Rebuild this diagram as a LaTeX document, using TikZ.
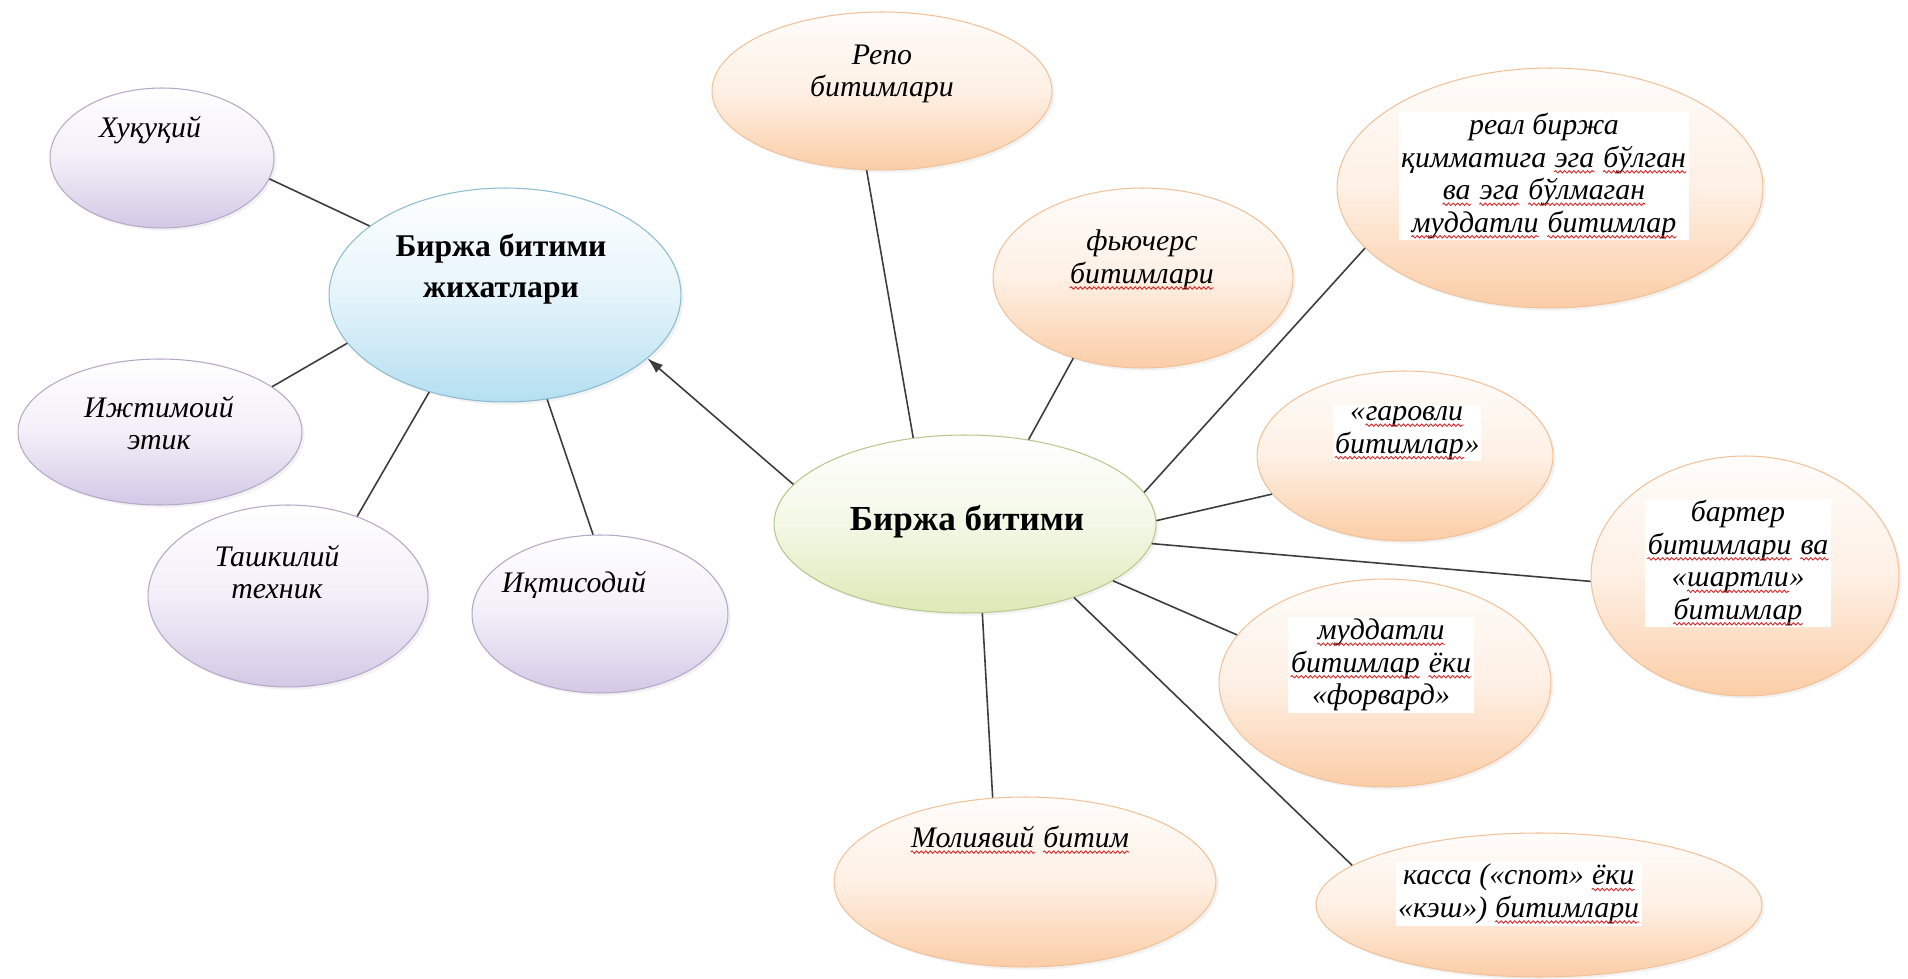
\documentclass[tikz,border=0pt]{standalone}
\usepackage{fontspec}
\setmainfont{Liberation Serif}
\usetikzlibrary{shapes.geometric, arrows.meta, shadows, decorations.pathmorphing}

\definecolor{lilac}{HTML}{D4C8E6}
\definecolor{lilacedge}{HTML}{B5A8C8}
\definecolor{skyb}{HTML}{B4DFF1}
\definecolor{skyedge}{HTML}{8DBBD0}
\definecolor{leaf}{HTML}{DDE9B6}
\definecolor{leafedge}{HTML}{B6C98E}
\definecolor{peach}{HTML}{FBCDA6}
\definecolor{peachedge}{HTML}{F1C29A}
\definecolor{linkc}{HTML}{3C3C3C}
\definecolor{typored}{HTML}{D62828}

% red wavy underline, as the spell checker leaves it
\newcommand\typo[1]{\tikz[baseline=(tw.base)]{\node[inner sep=0pt] (tw) {#1};
  \draw[typored, line width=0.5pt, decorate, decoration={snake, amplitude=0.7pt, segment length=2.6pt}]
    ([yshift=-2.6pt]tw.base west) -- ([yshift=-2.6pt]tw.base east);}}

\tikzset{
  bubble/.style={ellipse, inner sep=0pt, line width=0.6pt,
    drop shadow={opacity=0.10, shadow xshift=1.5pt, shadow yshift=-1.5pt}},
  aspect/.style={bubble, draw=lilacedge, top color=white, bottom color=lilac, middle color=lilac!30!white},
  hub/.style={bubble, draw=skyedge, top color=white, bottom color=skyb, middle color=skyb!35!white},
  core/.style={bubble, draw=leafedge, top color=white, bottom color=leaf, middle color=leaf!35!white},
  kind/.style={bubble, draw=peachedge, top color=peach!5!white, bottom color=peach, middle color=peach!30!white},
  lbl/.style={font=\itshape\fontsize{17}{18.5}\selectfont, align=center, inner sep=1pt},
  boxlbl/.style={lbl, fill=white},
  head/.style={font=\bfseries\fontsize{20}{23}\selectfont, align=center, inner sep=0pt},
  link/.style={draw=linkc, line width=0.9pt}
}

\begin{document}
\begin{tikzpicture}[x=0.02cm, y=-0.02cm, >={Latex[length=9pt,width=6pt]}]
  \fill[white] (0,0) rectangle (1908,979);
  \useasboundingbox (0,0) rectangle (1908,979);

  % aspects
  \node[aspect, minimum width=4.48cm, minimum height=2.80cm] (huq) at (162,158) {};
  \node[hub,    minimum width=7.04cm, minimum height=4.28cm] (jih) at (505,295) {};
  \node[aspect, minimum width=5.68cm, minimum height=2.92cm] (ijt) at (160,432) {};
  \node[aspect, minimum width=5.60cm, minimum height=3.64cm] (tash) at (288,596) {};
  \node[aspect, minimum width=5.12cm, minimum height=3.16cm] (iqt) at (600,614) {};

  % kinds of deals
  \node[core, minimum width=7.64cm, minimum height=3.56cm] (birzha) at (965,524) {};
  \node[kind, minimum width=6.80cm, minimum height=3.16cm] (repo) at (882,91) {};
  \node[kind, minimum width=6.00cm, minimum height=3.60cm] (fyu) at (1143,278) {};
  \node[kind, minimum width=8.52cm, minimum height=4.80cm] (real) at (1550,188) {};
  \node[kind, minimum width=5.92cm, minimum height=3.40cm] (garov) at (1405,456) {};
  \node[kind, minimum width=6.16cm, minimum height=4.80cm] (barter) at (1745,576) {};
  \node[kind, minimum width=6.64cm, minimum height=4.16cm] (mud) at (1385,683) {};
  \node[kind, minimum width=7.64cm, minimum height=3.40cm] (mol) at (1025,882) {};
  \node[kind, minimum width=8.92cm, minimum height=2.88cm] (kassa) at (1539,905) {};

  % texts
  \node[lbl] (huqt) at (150,130) {Хуқуқий};
  \node[head, font=\bfseries\fontsize{18}{23}\selectfont] (jiht) at (501,269) {Биржа битими\\жихатлари};
  \node[lbl] (ijtt) at (159,423) {Ижтимоий\\этик};
  \node[lbl] (tasht) at (277,572) {Ташкилий\\техник};
  \node[lbl] (iqtt) at (574,585) {Иқтисодий};
  \node[head] (birzhat) at (967,522) {Биржа битими};
  \node[lbl] (repot) at (882,74) {Репо\\битимлари};
  \node[lbl] (fyut) at (1142,260) {фьючерс\\\typo{битимлари}};
  \node[boxlbl] (realt) at (1544,176) {реал биржа\\қимматига \typo{эга} \typo{бўлган}\\\typo{ва} \typo{эга} \typo{бўлмаган}\\\typo{муддатли} \typo{битимлар}};
  \node[boxlbl] (garovt) at (1407,433) {«\typo{гаровли}\\\typo{битимлар}»};
  \node[boxlbl] (bartert) at (1738,563) {бартер\\\typo{битимлари} \typo{ва}\\«\typo{шартли}»\\\typo{битимлар}};
  \node[boxlbl] (mudt) at (1381,665) {\typo{муддатли}\\\typo{битимлар} \typo{ёки}\\«форвард»};
  \node[lbl] (molt) at (1020,840) {\typo{Молиявий} \typo{битим}};
  \node[boxlbl] (kassat) at (1519,894) {касса («спот» \typo{ёки}\\«кэш») \typo{битимлари}};

  % connectors
  \draw[link] (huq.-11) -- (jih.153);
  \draw[link] (ijt.22) -- (jih.-163);
  \draw[link] (tash.49) -- (jih.-128);
  \draw[link] (iqt.95) -- (jih.-68);
  \draw[link, ->] (birzha.167) -- (jih.-24);
  \draw[link] (repo.-101) -- (birzha.121);
  \draw[link] (fyu.-131) -- (birzha.53);
  \draw[link] (real.-162) -- (birzha.10);
  \draw[link] (garov.-164) -- (birzha.1);
  \draw[link] (barter.-178) -- (birzha.-6);
  \draw[link] (mud.162) -- (birzha.-21);
  \draw[link] (mol.111) -- (birzha.-79);
  \draw[link] (kassa.168) -- (birzha.-34);
\end{tikzpicture}
\end{document}
